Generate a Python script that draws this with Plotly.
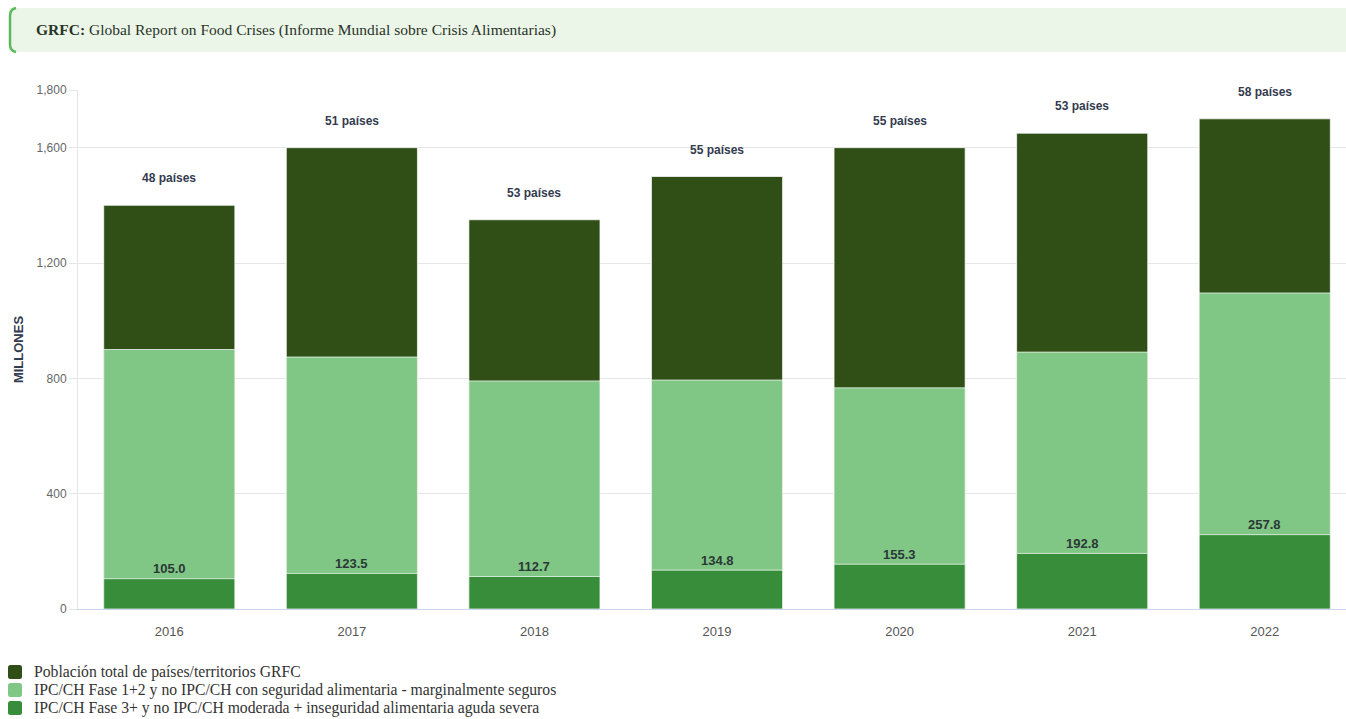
import plotly.graph_objects as go

# Datos GRFC (millones de personas)
years = ["2016", "2017", "2018", "2019", "2020", "2021", "2022"]
poblacion_total = [1400, 1600, 1350, 1500, 1600, 1650, 1700]
fase_1_2 = [900, 874, 791, 794, 767, 891, 1096]
fase_3_mas = [105.0, 123.5, 112.7, 134.8, 155.3, 192.8, 257.8]
paises = ["48 países", "51 países", "53 países", "55 países", "55 países", "53 países", "58 países"]

series_names = [
    "Población total de países/territorios GRFC",
    "IPC/CH Fase 1+2 y no IPC/CH con seguridad alimentaria - marginalmente seguros",
    "IPC/CH Fase 3+ y no IPC/CH moderada + inseguridad alimentaria aguda severa",
]
colors = ["#2f4f16", "#80c684", "#388d3a"]

W, H = 1346, 719
L, T, B, R = 78, 90, 110, 0
plot_w = W - L - R
plot_h = H - T - B


def px_x(px):
    return (px - L) / plot_w


def px_y(py):
    return (H - B - py) / plot_h


fig = go.Figure()
for name, vals, col in zip(series_names, [poblacion_total, fase_1_2, fase_3_mas], colors):
    fig.add_trace(go.Bar(
        x=years, y=vals, name=name, width=0.718,
        marker=dict(color=col, line=dict(color="rgba(255,255,255,0.7)", width=1)),
        hoverinfo="x+y+name", showlegend=False,
    ))

annotations = []
for i, (tot, lab) in enumerate(zip(poblacion_total, paises)):
    annotations.append(dict(
        x=i, y=tot, xref="x", yref="y", text=f"<b>{lab}</b>", showarrow=False,
        yanchor="middle", yshift=27,
        font=dict(family="Liberation Sans, Arial", size=12, color="#333b4f"),
    ))
for i, v in enumerate(fase_3_mas):
    annotations.append(dict(
        x=i, y=v, xref="x", yref="y", text=f"<b>{v:.1f}</b>", showarrow=False,
        yanchor="middle", yshift=10,
        font=dict(family="Liberation Sans, Arial", size=13, color="#2b3838"),
    ))

# Cabecera con el significado de GRFC
annotations.append(dict(
    xref="paper", yref="paper", x=px_x(34), y=px_y(30), xanchor="left", yanchor="middle",
    text="<b>GRFC:</b> Global Report on Food Crises (Informe Mundial sobre Crisis Alimentarias)",
    showarrow=False, font=dict(family="Liberation Serif, Times New Roman", size=15.5, color="#2a3328"),
))

shapes = [
    dict(type="rect", xref="paper", yref="paper",
         x0=px_x(9), x1=px_x(1346), y0=px_y(52), y1=px_y(8),
         fillcolor="#ebf6e9", line=dict(width=0), layer="below"),
    dict(type="path", xref="paper", yref="paper",
         path=(f"M {px_x(16)},{px_y(8)} Q {px_x(10)},{px_y(9)} {px_x(10)},{px_y(16)} "
               f"L {px_x(10)},{px_y(44)} Q {px_x(10)},{px_y(51)} {px_x(16)},{px_y(52)}"),
         line=dict(color="#5cb85c", width=2.5)),
]

# Leyenda: cuadro de color y texto por serie
legend_rows = [672, 690, 708]
for name, col, cy in zip(series_names, colors, legend_rows):
    x0, x1, y0, y1 = px_x(8), px_x(22), px_y(cy + 7), px_y(cy - 7)
    r = 2.5
    shapes.append(dict(
        type="path", xref="paper", yref="paper",
        path=(f"M {px_x(8 + r)},{y1} L {px_x(22 - r)},{y1} Q {x1},{y1} {x1},{px_y(cy - 7 + r)} "
              f"L {x1},{px_y(cy + 7 - r)} Q {x1},{y0} {px_x(22 - r)},{y0} "
              f"L {px_x(8 + r)},{y0} Q {x0},{y0} {x0},{px_y(cy + 7 - r)} "
              f"L {x0},{px_y(cy - 7 + r)} Q {x0},{y1} {px_x(8 + r)},{y1} Z"),
        fillcolor=col, line=dict(width=0),
    ))
    annotations.append(dict(
        xref="paper", yref="paper", x=px_x(32), y=px_y(cy), xanchor="left", yanchor="middle",
        text=name, showarrow=False,
        font=dict(family="Liberation Serif, Times New Roman", size=15.7, color="#333333"),
    ))

fig.update_layout(
    width=W, height=H,
    margin=dict(l=L, r=R, t=T, b=B, autoexpand=False),
    barmode="overlay",
    paper_bgcolor="white", plot_bgcolor="white",
    showlegend=False,
    annotations=annotations,
    shapes=shapes,
    xaxis=dict(
        type="category", range=[-0.5, 6.445],
        showgrid=False, showline=True, linecolor="#ccd6eb", linewidth=1,
        ticks="", ticklabelstandoff=10,
        tickfont=dict(family="Liberation Sans, Arial", size=13, color="#555555"),
        fixedrange=True,
    ),
    yaxis=dict(
        range=[0, 1800], tickvals=[0, 400, 800, 1200, 1600, 1800],
        ticktext=["0", "400", "800", "1,200", "1,600", "1,800"],
        showgrid=True, gridcolor="#e6e6e6", gridwidth=1,
        showline=True, linecolor="#e6e6e6", zeroline=False,
        ticks="outside", ticklen=8, tickcolor="#e6e6e6",
        tickfont=dict(family="Liberation Sans, Arial", size=12, color="#666666"),
        title=dict(text="<b>MILLONES</b>", standoff=10,
                   font=dict(family="Liberation Sans, Arial", size=13, color="#333b4f")),
        fixedrange=True,
    ),
)

fig.write_html("out.html")
